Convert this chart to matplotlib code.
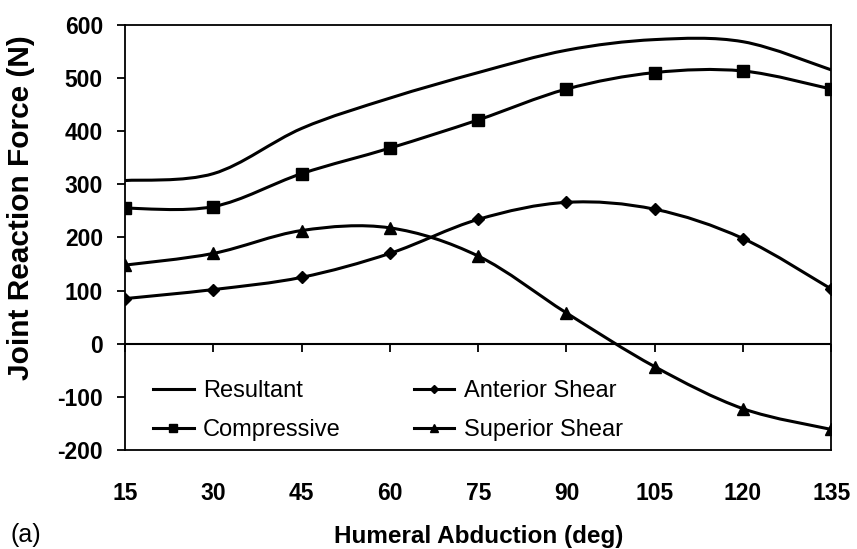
import numpy as np
import matplotlib
matplotlib.use("Agg")
import matplotlib.pyplot as plt
from matplotlib.path import Path
from matplotlib.patches import PathPatch
from matplotlib.lines import Line2D

plt.rcParams["font.family"] = ["Liberation Sans", "DejaVu Sans"]
plt.rcParams["axes.unicode_minus"] = False

abduction = [15, 30, 45, 60, 75, 90, 105, 120, 135]
resultant = [307, 320, 405, 462, 510, 552, 572, 568, 515]
compressive = [255, 258, 320, 368, 421, 479, 510, 513, 479]
anterior_shear = [85, 102, 125, 170, 234, 266, 253, 198, 103]
superior_shear = [148, 170, 213, 218, 165, 58, -43, -122, -161]
labels = ["Resultant", "Compressive", "Anterior Shear", "Superior Shear"]


def smooth_path(x, y):
    # Excel-style smoothed line: Catmull-Rom segments as cubic Bezier curves
    pts = np.column_stack([x, y]).astype(float)
    verts = [pts[0]]
    codes = [Path.MOVETO]
    n = len(pts)
    for i in range(n - 1):
        p0 = pts[max(i - 1, 0)]
        p1 = pts[i]
        p2 = pts[i + 1]
        p3 = pts[min(i + 2, n - 1)]
        c1 = p1 + (p2 - p0) / 6.0
        c2 = p2 - (p3 - p1) / 6.0
        verts += [c1, c2, p2]
        codes += [Path.CURVE4] * 3
    return Path(verts, codes)


fig = plt.figure(figsize=(8.57, 5.49), dpi=100)
ax = fig.add_axes([0.146, 0.180, 0.824, 0.775])

series = [
    (resultant, None, 0),
    (compressive, "s", 8.5),
    (anterior_shear, "D", 6),
    (superior_shear, "^", 8),
]

handles = []
for vals, marker, ms in series:
    ax.add_patch(PathPatch(smooth_path(abduction, vals), facecolor="none",
                           edgecolor="black", lw=2.2, zorder=3))
    if marker:
        ax.plot(abduction, vals, ls="none", marker=marker, ms=ms, color="black", zorder=4)
    handles.append(Line2D([], [], color="black", lw=2.2, marker=marker, ms=ms * 0.75))

ax.set_xlim(15, 135)
ax.set_ylim(-200, 600)
ax.set_xticks(abduction)
ax.set_yticks(range(-200, 601, 100))
ax.tick_params(axis="x", length=0, pad=23, labelsize=16.5)
ax.tick_params(axis="y", length=6, width=1.3, direction="out", labelsize=16.5, pad=10)
for lab in ax.get_xticklabels() + ax.get_yticklabels():
    lab.set_fontweight("bold")
for sp in ax.spines.values():
    sp.set_linewidth(1.3)

# horizontal axis crosses at zero, with its tick marks there
ax.axhline(0, color="black", lw=1.5, zorder=2)
ax.plot(abduction, [0] * len(abduction), ls="none", marker=3, ms=6,
        mew=1.3, color="black", zorder=2, clip_on=False)

ax.set_xlabel("Humeral Abduction (deg)", fontsize=17.5, fontweight="bold", labelpad=14)
ax.set_ylabel("Joint Reaction Force (N)", fontsize=21.5, fontweight="bold")
ax.yaxis.set_label_coords(-0.128, 0.57)
fig.text(0.012, 0.012, "(a)", fontsize=18)

ax.legend(handles, labels, ncol=2, loc="lower left",
          bbox_to_anchor=(0.02, -0.012), frameon=False,
          fontsize=17, handlelength=1.7, handletextpad=0.4, columnspacing=3.1,
          labelspacing=0.72, borderaxespad=0.2)

fig.savefig("out.png", dpi=100)
